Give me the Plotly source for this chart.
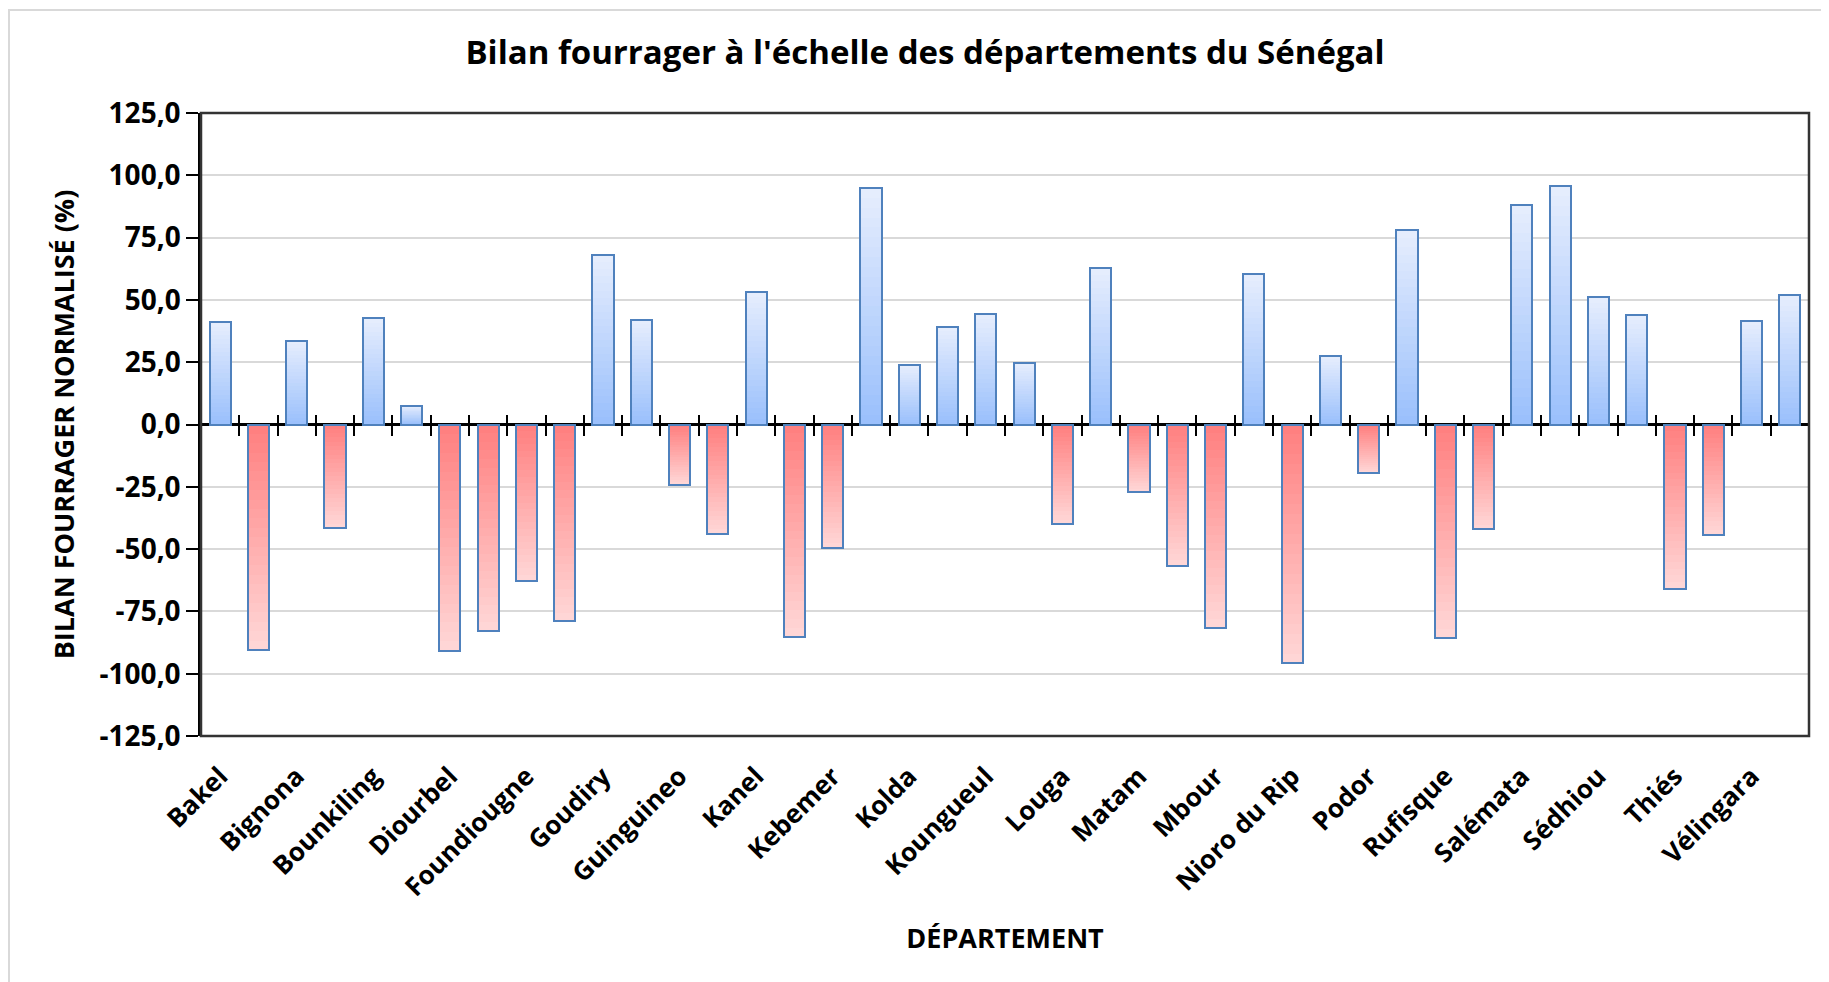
import plotly.graph_objects as go
import numpy as np

# Departements (only one out of two is labelled on the axis, like the original)
departements = ["Bakel", "Bambey", "Bignona", "Birkilane", "Bounkiling", "Dagana",
                "Diourbel", "Fatick", "Foundiougne", "Gossas", "Goudiry", "Goudomp",
                "Guinguineo", "Kaffrine", "Kanel", "Kaolack", "Kebemer", "Kédougou",
                "Kolda", "Koumpentoum", "Koungueul", "Linguère", "Louga", "Malem Hodar",
                "Matam", "Mbacké", "Mbour", "Medina Yoro Foulah", "Nioro du Rip",
                "Oussouye", "Podor", "Ranérou", "Rufisque", "Saint-Louis", "Salémata",
                "Saraya", "Sédhiou", "Tambacounda", "Thiés", "Tivaouane", "Vélingara",
                "Ziguinchor"]
bilan = [41.0, -90.5, 33.6, -41.6, 42.6, 7.4, -90.8, -82.9, -62.9, -79.0,
         67.9, 42.1, -24.1, -43.9, 53.3, -85.1, -49.7, 94.9, 23.8, 39.2,
         44.3, 24.6, -39.8, 62.8, -27.0, -56.9, -81.5, 60.2, -95.9, 27.4,
         -19.3, 77.9, -85.7, -42.0, 88.0, 95.6, 51.0, 43.8, -66.1, -44.3,
         41.6, 52.0]
y_ticks = [125, 100, 75, 50, 25, 0, -25, -50, -75, -100, -125]

# Figure geometry (pixels) - the page body adds an 8px offset
W, H = 1829, 982
ML, MR, MT, MB = 193, 28, 105, 254
FONT = "Open Sans"

x = np.arange(len(departements))
vals = np.array(bilan)
bar_w = 0.55


def mix(c1, c2, t):
    c = [round(a + (b - a) * t) for a, b in zip(c1, c2)]
    return "rgb({},{},{})".format(*c)


# Gradient: light at the far end of the bar, saturated near zero
blue_far, blue_near = (229, 237, 253), (155, 192, 252)
red_far, red_near = (255, 214, 214), (255, 128, 128)

fig = go.Figure()
n_layers = 24
for i in range(n_layers):
    k = 1 - i / n_layers
    t = i / (n_layers - 1)
    cols = [mix(blue_far, blue_near, t) if v >= 0 else mix(red_far, red_near, t) for v in vals]
    fig.add_trace(go.Bar(
        x=x, y=vals * k, width=bar_w,
        marker=dict(color=cols, line=dict(width=0)),
        hoverinfo="skip", showlegend=False))

# Outline on top
fig.add_trace(go.Bar(
    x=x, y=vals, width=bar_w,
    customdata=departements,
    marker=dict(color="rgba(0,0,0,0)", line=dict(color="#4f81bd", width=2)),
    hovertemplate="%{customdata}<br>%{y:.1f} %<extra></extra>",
    showlegend=False))

# invisible copies so the tick-only axes on the zero line get drawn
for ax in ["x2", "x3"]:
    fig.add_trace(go.Bar(x=x, y=vals, width=bar_w, xaxis=ax, opacity=0,
                         hoverinfo="skip", showlegend=False))

label_idx = list(range(0, len(departements), 2))
bounds = list(np.arange(len(departements) + 1) - 0.5)
xr = [-0.5, len(departements) - 0.5]

tick_axis = dict(range=xr, overlaying="x", anchor="free", position=0.5,
                 tickvals=bounds, ticklen=10, tickwidth=2,
                 tickcolor="black", showticklabels=False, showgrid=False,
                 zeroline=False, showline=False)

fig.update_layout(
    width=W, height=H,
    margin=dict(l=ML, r=MR, t=MT, b=MB),
    barmode="overlay", bargap=0,
    plot_bgcolor="white", paper_bgcolor="white",
    font=dict(family=FONT, color="black"),
    title=dict(text="Bilan fourrager à l'échelle des départements du Sénégal",
               font=dict(size=33, weight="bold", family=FONT),
               x=917 / W, xanchor="center", y=1 - 44 / H, yanchor="middle",
               xref="container", yref="container"),
    xaxis=dict(range=xr, tickvals=label_idx,
               ticktext=[departements[i] for i in label_idx],
               tickangle=-45, ticks="", showgrid=False, zeroline=False,
               tickfont=dict(size=26, weight="bold", family=FONT),
               ticklabelstandoff=19,
               title=dict(text="DÉPARTEMENT", standoff=26,
                          font=dict(size=27, weight="bold", family=FONT))),
    xaxis2=dict(tick_axis, ticks="outside"),
    xaxis3=dict(tick_axis, ticks="outside", side="top"),
    yaxis=dict(range=[-125, 125], tickvals=y_ticks,
               ticktext=["{:.1f}".format(v).replace(".", ",") for v in y_ticks],
               ticks="outside", ticklen=12, tickwidth=2, tickcolor="black",
               showgrid=True, gridcolor="#d9d9d9", gridwidth=1.5,
               zeroline=True, zerolinecolor="black", zerolinewidth=2.5,
               showline=True, linecolor="black", linewidth=2.5,
               tickfont=dict(size=28, weight="bold", family=FONT),
               title=dict(text="BILAN FOURRAGER NORMALISÉ (%)", standoff=18,
                          font=dict(size=27, weight="bold", family=FONT))),
)

# Plot frame
fig.add_shape(type="rect", xref="paper", yref="paper", x0=0, x1=1, y0=0, y1=1,
              line=dict(color="#333333", width=2.5), layer="above")

# Outer light border of the chart area (right and bottom edges fall off the page)
pw, ph = W - ML - MR, H - MT - MB
fig.add_shape(type="rect", xref="paper", yref="paper",
              x0=(1 - ML) / pw, x1=(W + 20 - ML) / pw,
              y0=(-MB - 20) / ph, y1=(H - MB - 2) / ph,
              line=dict(color="#d9d9d9", width=2), layer="below")

fig.write_html("out.html")
